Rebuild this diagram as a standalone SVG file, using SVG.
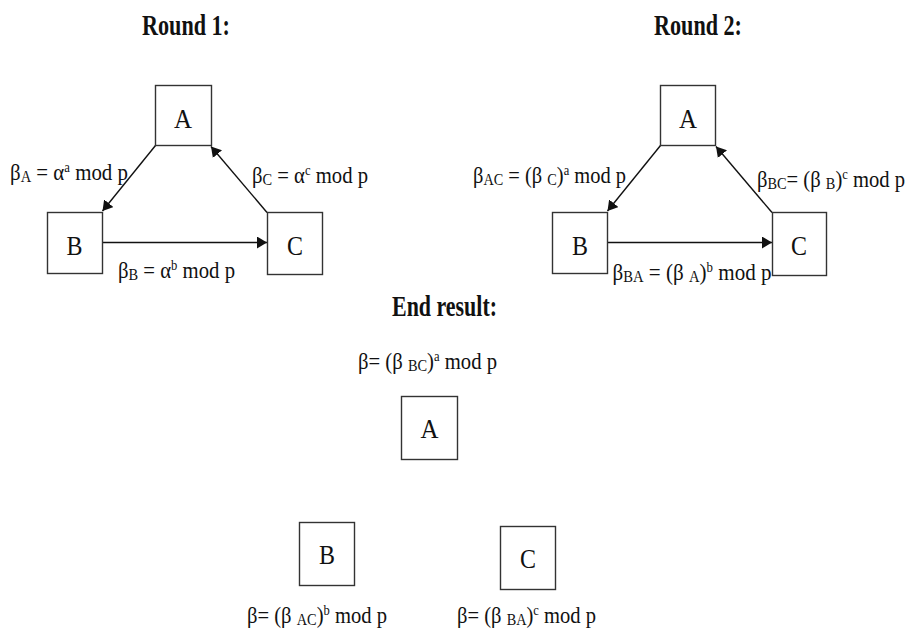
<svg xmlns="http://www.w3.org/2000/svg" width="909" height="631" viewBox="0 0 909 631">
<style>
.bg{fill:#fff}
.box{fill:#fff;stroke:#333;stroke-width:1.4}
.node{font-family:"Liberation Serif","Times New Roman",serif;font-size:27px;fill:#111;text-anchor:middle}
.title{font-family:"Liberation Serif","Times New Roman",serif;font-size:29px;font-weight:bold;fill:#111}
.lbl{font-family:"Liberation Serif","Times New Roman",serif;font-size:23px;fill:#111}
.sub{font-size:16px}
.sup{font-size:14px}
.edge{stroke:#111;stroke-width:1.4;fill:none;marker-end:url(#ah)}
</style>
<defs>
<marker id="ah" viewBox="0 0 10 12" refX="10" refY="6" markerWidth="10" markerHeight="12" markerUnits="userSpaceOnUse" orient="auto">
<path d="M0,0 L10,6 L0,12 z" fill="#111"/>
</marker>
</defs>
<rect class="bg" x="0" y="0" width="909" height="631"/>

<text class="title" x="142" y="35" textLength="88" lengthAdjust="spacingAndGlyphs">Round 1:</text>
<text class="title" x="654" y="35" textLength="88" lengthAdjust="spacingAndGlyphs">Round 2:</text>
<text class="title" x="392" y="316" textLength="105" lengthAdjust="spacingAndGlyphs">End result:</text>

<g id="connectors">
<line class="edge" x1="155.5" y1="145.5" x2="102.5" y2="211"/>
<line class="edge" x1="267" y1="212.5" x2="211" y2="146.5"/>
<line class="edge" x1="102" y1="242.5" x2="267" y2="242.5"/>
<line class="edge" x1="660.5" y1="145.5" x2="607.5" y2="211"/>
<line class="edge" x1="772" y1="212.5" x2="716" y2="146.5"/>
<line class="edge" x1="607" y1="242.5" x2="772" y2="242.5"/>
</g>

<g id="r1-A"><rect class="box" x="155.5" y="85.5" width="56" height="60"/><text class="node" x="183" y="128" textLength="18" lengthAdjust="spacingAndGlyphs">A</text></g>
<g id="r1-B"><rect class="box" x="47.5" y="212.5" width="55" height="61"/><text class="node" x="74.5" y="255" textLength="16" lengthAdjust="spacingAndGlyphs">B</text></g>
<g id="r1-C"><rect class="box" x="267.5" y="212.5" width="55" height="62"/><text class="node" x="295" y="255" textLength="16" lengthAdjust="spacingAndGlyphs">C</text></g>

<g id="r2-A"><rect class="box" x="660.5" y="85.5" width="55" height="60"/><text class="node" x="688" y="128" textLength="18" lengthAdjust="spacingAndGlyphs">A</text></g>
<g id="r2-B"><rect class="box" x="552.5" y="212.5" width="55" height="61"/><text class="node" x="580" y="255" textLength="16" lengthAdjust="spacingAndGlyphs">B</text></g>
<g id="r2-C"><rect class="box" x="772.5" y="212.5" width="54" height="63"/><text class="node" x="799" y="255" textLength="16" lengthAdjust="spacingAndGlyphs">C</text></g>

<g id="end-A"><rect class="box" x="401.5" y="396.5" width="56" height="63"/><text class="node" x="429.5" y="438" textLength="18" lengthAdjust="spacingAndGlyphs">A</text></g>
<g id="end-B"><rect class="box" x="299.5" y="522.5" width="55" height="63"/><text class="node" x="327" y="564" textLength="16" lengthAdjust="spacingAndGlyphs">B</text></g>
<g id="end-C"><rect class="box" x="500.5" y="526.5" width="55" height="63"/><text class="node" x="528" y="568" textLength="16" lengthAdjust="spacingAndGlyphs">C</text></g>

<g id="labels">
<text class="lbl" x="10" y="180" textLength="118" lengthAdjust="spacingAndGlyphs">β<tspan class="sub" dy="2">A</tspan><tspan dy="-2"> = α</tspan><tspan class="sup" dy="-8">a</tspan><tspan dy="8"> mod p</tspan></text>
<text class="lbl" x="252" y="183" textLength="116" lengthAdjust="spacingAndGlyphs">β<tspan class="sub" dy="2">C</tspan><tspan dy="-2"> = α</tspan><tspan class="sup" dy="-8">c</tspan><tspan dy="8"> mod p</tspan></text>
<text class="lbl" x="118" y="277.5" textLength="117" lengthAdjust="spacingAndGlyphs">β<tspan class="sub" dy="2">B</tspan><tspan dy="-2"> = α</tspan><tspan class="sup" dy="-8">b</tspan><tspan dy="8"> mod p</tspan></text>

<text class="lbl" x="473" y="182.5" textLength="153" lengthAdjust="spacingAndGlyphs">β<tspan class="sub" dy="2">AC</tspan><tspan dy="-2"> = (β </tspan><tspan class="sub" dy="2">C</tspan><tspan dy="-2">)</tspan><tspan class="sup" dy="-8">a</tspan><tspan dy="8"> mod p</tspan></text>
<text class="lbl" x="757" y="186.5" textLength="148" lengthAdjust="spacingAndGlyphs">β<tspan class="sub" dy="2">BC</tspan><tspan dy="-2">= (β </tspan><tspan class="sub" dy="2">B</tspan><tspan dy="-2">)</tspan><tspan class="sup" dy="-8">c</tspan><tspan dy="8"> mod p</tspan></text>
<text class="lbl" x="612.5" y="280" textLength="159" lengthAdjust="spacingAndGlyphs">β<tspan class="sub" dy="2">BA</tspan><tspan dy="-2"> = (β </tspan><tspan class="sub" dy="2">A</tspan><tspan dy="-2">)</tspan><tspan class="sup" dy="-8">b</tspan><tspan dy="8"> mod p</tspan></text>

<text class="lbl" x="358" y="369" textLength="139" lengthAdjust="spacingAndGlyphs">β= (β <tspan class="sub" dy="2">BC</tspan><tspan dy="-2">)</tspan><tspan class="sup" dy="-8">a</tspan><tspan dy="8"> mod p</tspan></text>
<text class="lbl" x="247" y="623" textLength="140" lengthAdjust="spacingAndGlyphs">β= (β <tspan class="sub" dy="2">AC</tspan><tspan dy="-2">)</tspan><tspan class="sup" dy="-8">b</tspan><tspan dy="8"> mod p</tspan></text>
<text class="lbl" x="457" y="623" textLength="139" lengthAdjust="spacingAndGlyphs">β= (β <tspan class="sub" dy="2">BA</tspan><tspan dy="-2">)</tspan><tspan class="sup" dy="-8">c</tspan><tspan dy="8"> mod p</tspan></text>
</g>
</svg>
